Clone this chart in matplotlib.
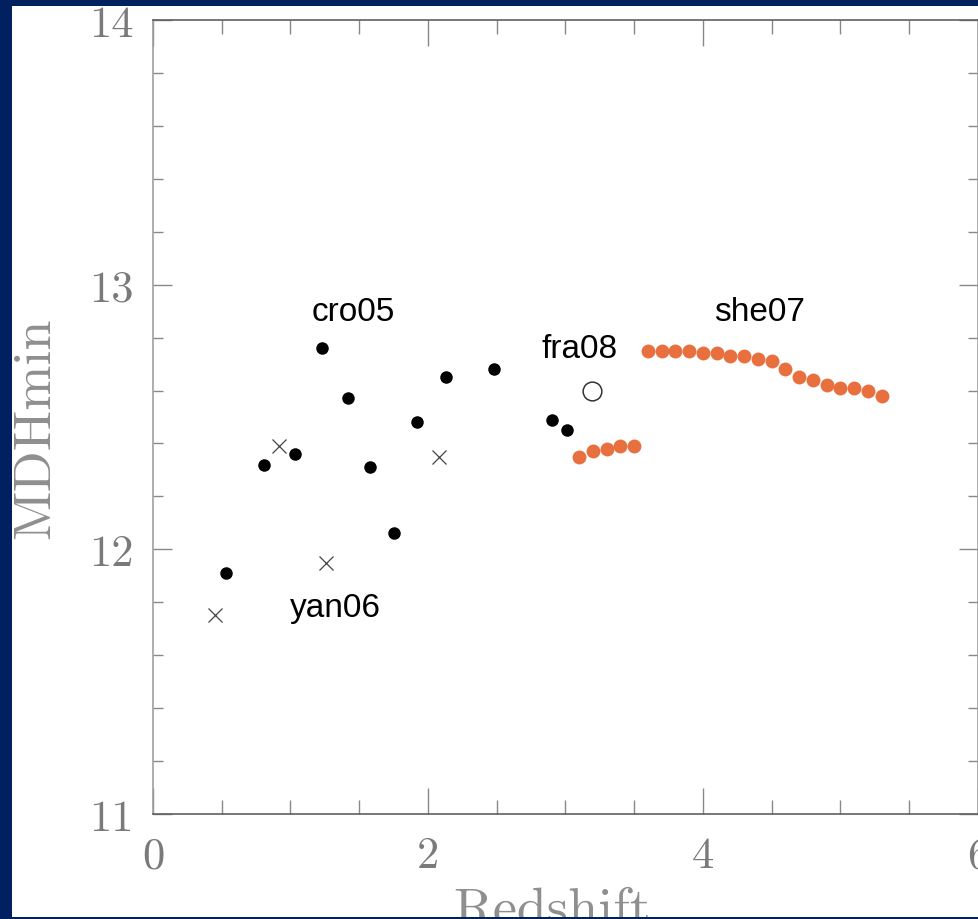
import matplotlib
matplotlib.use("Agg")
import matplotlib.pyplot as plt
from matplotlib.patches import Rectangle
from matplotlib.ticker import MultipleLocator

# Minimum dark halo mass vs redshift, several surveys
cro05_z = [0.53, 0.81, 1.03, 1.23, 1.42, 1.58, 1.75, 1.92, 2.13, 2.48, 2.90, 3.01]
cro05_m = [11.91, 12.32, 12.36, 12.76, 12.57, 12.31, 12.06, 12.48, 12.65, 12.68, 12.49, 12.45]

yan06_z = [0.45, 0.92, 1.26, 2.08]
yan06_m = [11.75, 12.39, 11.95, 12.35]

fra08_z = [3.19]
fra08_m = [12.60]

she07_lo_z = [3.1, 3.2, 3.3, 3.4, 3.5]
she07_lo_m = [12.35, 12.37, 12.38, 12.39, 12.39]

she07_hi_z = [3.6, 3.7, 3.8, 3.9, 4.0, 4.1, 4.2, 4.3, 4.4, 4.5,
              4.6, 4.7, 4.8, 4.9, 5.0, 5.1, 5.2, 5.3]
she07_hi_m = [12.75, 12.75, 12.75, 12.75, 12.74, 12.74, 12.73, 12.73, 12.72, 12.71,
              12.68, 12.65, 12.64, 12.62, 12.61, 12.61, 12.60, 12.58]

labels = ["cro05", "yan06", "fra08", "she07"]
label_pos = [(1.46, 12.90), (1.33, 11.78), (3.10, 12.76), (4.41, 12.90)]

navy = "#002060"
orange = "#E8703F"
W, H = 979, 920

fig = plt.figure(figsize=(W / 100, H / 100), dpi=100, facecolor=navy)
fig.patches.append(Rectangle((12 / W, 2 / H), 1, 911 / H, transform=fig.transFigure,
                             facecolor="white", edgecolor="none", zorder=-5))

ax = fig.add_axes([153 / W, 105 / H, 825 / W, 794 / H])
ax.set_xlim(0, 6)
ax.set_ylim(11, 14)

ax.plot(cro05_z, cro05_m, "o", color="black", ms=9, mew=0)
ax.plot(yan06_z, yan06_m, "x", color="#444444", ms=9.5, mew=0.9)
ax.plot(fra08_z, fra08_m, "o", mfc="white", mec="#333333", ms=13.5, mew=1.1)
ax.plot(she07_lo_z, she07_lo_m, "o", color=orange, ms=10, mew=0)
ax.plot(she07_hi_z, she07_hi_m, "o", color=orange, ms=10, mew=0)

for txt, (x, y) in zip(labels, label_pos):
    ax.text(x, y, txt, fontsize=24, family="Liberation Sans", color="black",
            ha="center", va="center")

# axes frame and inward ticks on all sides
for side in ["top", "bottom"]:
    ax.spines[side].set_color("#606060")
for side in ["left", "right"]:
    ax.spines[side].set_color("#a0a0a0")
for sp in ax.spines.values():
    sp.set_linewidth(1.2)

ax.xaxis.set_major_locator(MultipleLocator(2))
ax.xaxis.set_minor_locator(MultipleLocator(0.5))
ax.yaxis.set_major_locator(MultipleLocator(1))
ax.yaxis.set_minor_locator(MultipleLocator(0.2))
ax.tick_params(axis="both", which="both", direction="in", top=True, right=True)
ax.tick_params(axis="x", which="major", length=19, width=1, color="#888888", pad=16)
ax.tick_params(axis="x", which="minor", length=10, width=1, color="#888888")
ax.tick_params(axis="y", which="major", length=14, width=1, color="#888888", pad=14)
ax.tick_params(axis="y", which="minor", length=7.5, width=1, color="#888888")
for lab in ax.get_xticklabels() + ax.get_yticklabels():
    lab.set_family("cmr10")
    lab.set_fontsize(32)
    lab.set_color("#7a7a7a")

fig.text(552 / W, 1 - 925 / H, "Redshift", family="cmr10", fontsize=39,
         color="#8f8f8f", ha="center", va="baseline")
fig.text(49 / W, 1 - 428 / H, "MDHmin", family="cmr10", fontsize=39,
         color="#8f8f8f", ha="center", va="baseline", rotation=90,
         rotation_mode="anchor")

# navy frame drawn over the edges
for (x0, y0, w, h) in [(0, 0, 12, H), (0, 0, W, 2), (0, 913, W, 7)]:
    fig.patches.append(Rectangle((x0 / W, y0 / H), w / W, h / H, transform=fig.transFigure,
                                 facecolor=navy, edgecolor="none", zorder=10))

fig.savefig("out.png", dpi=100, facecolor=navy)
